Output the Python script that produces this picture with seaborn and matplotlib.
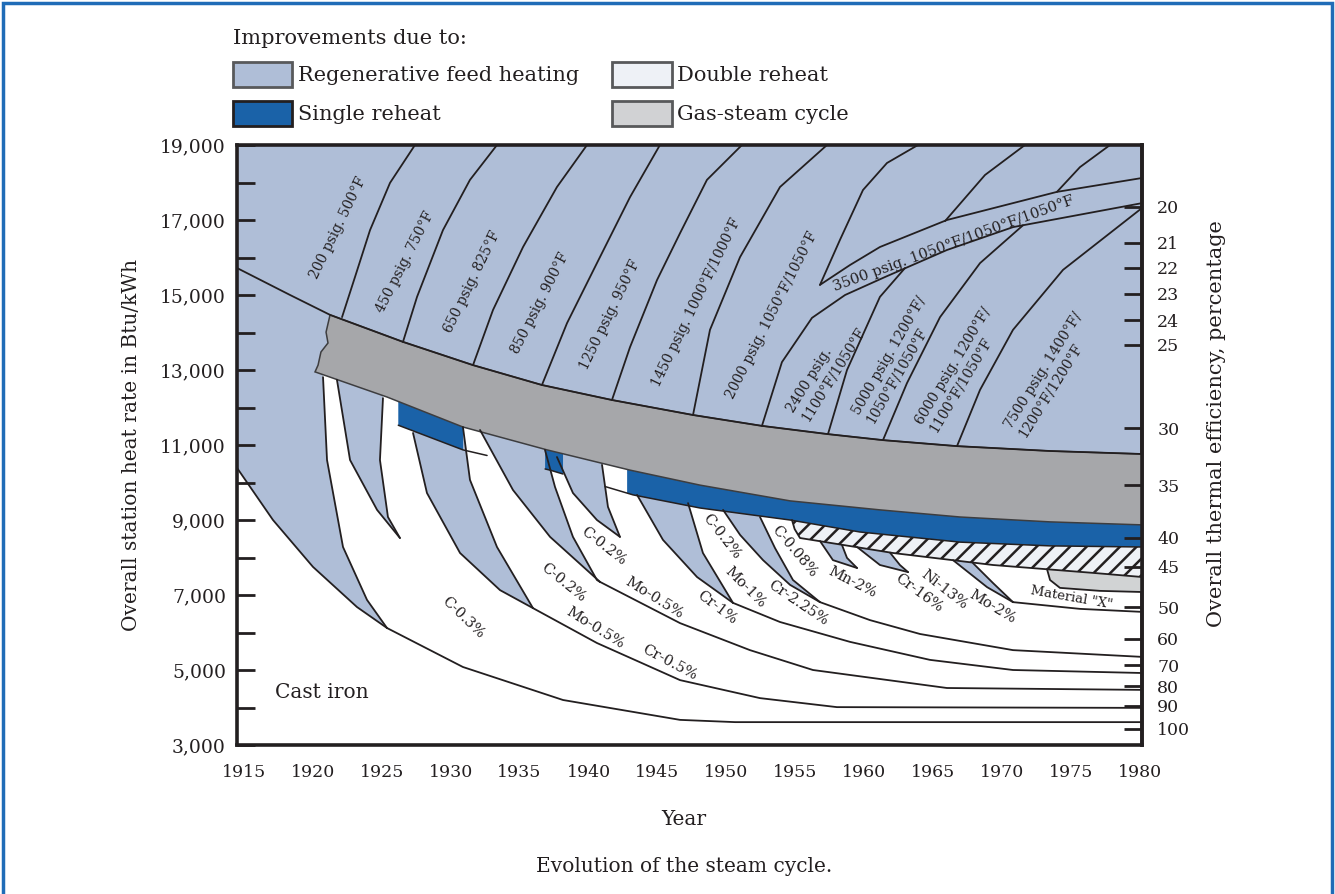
import matplotlib
matplotlib.use("Agg")
import matplotlib.pyplot as plt
from matplotlib.patches import Patch, Rectangle
import numpy as np
import seaborn as sns

sns.set_theme(style="white")
plt.rcParams["font.family"] = ["DejaVu Serif"]
plt.rcParams["hatch.linewidth"] = 1.8

INK = "#231f20"
REGEN = "#afbed7"
REHEAT = "#1a62a8"
DOUBLE = "#eef1f6"
GAS = "#a6a7aa"
GAS_KEY = "#d1d2d4"
MATX = "#d1d3d4"
FRAME = "#1f6cb7"

XMIN, XMAX = 1914.5, 1980.15

# ---- band boundaries (year, Btu/kWh) ----
top_line = [(1914.5, 15720), (1918.35, 15000), (1921.25, 14470), (1926.54, 13750),
            (1931.62, 13130), (1936.62, 12600), (1941.70, 12200), (1947.58, 11800),
            (1952.58, 11510), (1957.37, 11290), (1961.36, 11130), (1966.73, 10970),
            (1973.48, 10840), (1980.15, 10760)]
gas_left = [(1921.25, 14470), (1920.96, 14010), (1921.1, 13720), (1920.59, 13480),
            (1920.38, 13130), (1920.16, 12950)]
gas_bottom = [(1920.16, 12950), (1925.38, 12280), (1930.89, 11480), (1936.99, 10870),
              (1943.01, 10330), (1948.09, 9930), (1954.62, 9510), (1961.14, 9270),
              (1966.95, 9080), (1973.48, 8950), (1980.15, 8870)]
reheat_bottom = [(1926.18, 11530), (1930.89, 10870), (1937.21, 10330), (1943.23, 9670),
                 (1948.09, 9320), (1954.62, 9000), (1959.69, 8680), (1966.95, 8410),
                 (1973.48, 8310), (1980.15, 8280)]
reheat_pieces = [(1926.2, 1930.9), (1936.85, 1938.15), (1942.8, 1980.15)]
reheat_edges = [(1926.2, 1932.64), (1936.85, 1938.15), (1941.2, 1980.15)]
double_bottom = [(1954.76, 9000), (1954.95, 8760), (1955.34, 8520), (1962.09, 8120),
                 (1969.34, 7800), (1976.59, 7590), (1980.15, 7480)]
matx_bottom = [(1973.26, 7690), (1973.48, 7400), (1974.2, 7190), (1977.1, 7110),
               (1980.15, 7080)]

# ---- metal limit curves ----
cast_iron = [(1914.5, 10390), (1917.11, 9000), (1920.01, 7750), (1923.2, 6680), (1925.38, 6120)]
tail_a = [(1925.38, 6120), (1930.89, 5080), (1938.15, 4200), (1946.64, 3670),
          (1950.63, 3610), (1980.15, 3610)]
edge_1 = [(1920.74, 12810), (1921.03, 10600), (1922.19, 8280), (1923.93, 6870), (1925.38, 6120)]
spike_1_left = [(1921.75, 12740), (1922.7, 10600), (1924.66, 9270), (1926.32, 8520)]
spike_1_right = [(1925.09, 12250), (1924.87, 10600), (1925.45, 9080), (1926.32, 8520)]
edge_4 = [(1927.27, 11320), (1928.28, 9720), (1930.68, 8120), (1933.58, 7130), (1935.97, 6650)]
tail_b = [(1935.97, 6650), (1940.61, 5720), (1946.64, 4730), (1952.44, 4250),
          (1958.02, 4010), (1980.15, 3990)]
edge_5 = [(1930.89, 11480), (1931.4, 10070), (1933.36, 8280), (1935.97, 6650)]
edge_6 = [(1932.13, 11400), (1934.52, 9800), (1937.21, 8550), (1940.83, 7350)]
tail_c = [(1940.83, 7350), (1946.64, 6250), (1951.71, 5530), (1956.28, 5000),
          (1966.0, 4520), (1980.15, 4470)]
edge_7 = [(1936.84, 10870), (1937.57, 9880), (1938.87, 8550), (1940.61, 7400), (1940.83, 7350)]
spike_2_left = [(1937.71, 10680), (1938.87, 9720), (1940.61, 9000), (1942.28, 8550)]
spike_2_right = [(1940.98, 10470), (1941.41, 9350), (1942.28, 8550)]
edge_10 = [(1943.52, 9670), (1945.4, 8470), (1947.87, 7480), (1950.48, 6790)]
edge_11 = [(1947.22, 9450), (1948.3, 8120), (1950.48, 6790)]
tail_d = [(1950.48, 6790), (1953.89, 6280), (1958.97, 5750), (1964.77, 5270),
          (1970.79, 5000), (1980.15, 4920)]
edge_12 = [(1949.76, 9270), (1951.0, 8600), (1952.66, 7930), (1954.62, 7270), (1956.79, 6810)]
edge_13 = [(1952.44, 9080), (1953.53, 8250), (1954.83, 7400), (1956.79, 6810)]
tail_e = [(1956.79, 6810), (1960.42, 6330), (1964.05, 5960), (1970.79, 5530), (1980.15, 5350)]
mn_left = [(1956.79, 8440), (1957.73, 7930), (1959.48, 7720)]
mn_right = [(1958.39, 8330), (1958.75, 7990), (1959.48, 7720)]
cr_left = [(1959.48, 8280), (1961.14, 7800), (1963.18, 7610)]
cr_right = [(1961.87, 8130), (1962.59, 7800), (1963.18, 7610)]
edge_14 = [(1966.44, 7930), (1968.91, 7210), (1970.79, 6810)]
edge_15 = [(1967.89, 7850), (1969.34, 7320), (1970.79, 6810)]
tail_f = [(1970.79, 6810), (1975.65, 6630), (1980.15, 6550)]

# ---- steam condition lines ----
steam_1 = [(1922.12, 14410), (1923.06, 15480), (1924.15, 16730), (1925.6, 17990), (1927.41, 19000)]
steam_2 = [(1926.54, 13750), (1927.56, 14950), (1929.44, 16730), (1931.4, 18070), (1933.36, 19000)]
steam_3 = [(1931.62, 13130), (1933.07, 14600), (1935.25, 16280), (1937.71, 17880), (1939.89, 19000)]
steam_4 = [(1936.62, 12600), (1938.44, 14250), (1940.61, 15850), (1943.01, 17610), (1945.18, 19000)]
steam_5 = [(1941.70, 12200), (1943.01, 13610), (1944.97, 15400), (1946.64, 16650),
           (1948.59, 18070), (1951.13, 19000)]
steam_6 = [(1947.58, 11800), (1948.81, 14070), (1950.99, 16010), (1953.89, 17880), (1957.3, 19000)]
steam_7 = [(1952.58, 11510), (1954.03, 13210), (1956.21, 14390), (1958.61, 15000),
           (1961.51, 15480), (1966.0, 16200), (1970.79, 16810), (1980.15, 17450)]
steam_7_top = [(1956.79, 15270), (1958.24, 16470), (1959.91, 17800), (1961.65, 18520), (1963.9, 19000)]
band_3500_top = [(1956.79, 15270), (1958.97, 15800), (1961.14, 16280), (1966.0, 17000),
                 (1973.98, 17750), (1980.15, 18120)]
steam_8_low = [(1957.37, 11290), (1958.75, 13000), (1961.14, 14950), (1962.96, 15720)]
steam_8_up = [(1965.86, 16970), (1968.76, 18200), (1971.66, 19000)]
steam_9_low = [(1961.36, 11130), (1963.1, 12650), (1965.5, 14410), (1968.4, 15850), (1971.52, 16860)]
steam_9_up = [(1973.98, 17750), (1975.65, 18410), (1977.83, 19000)]
steam_10 = [(1966.73, 10970), (1968.4, 12470), (1970.79, 14070), (1974.42, 15670), (1980.15, 17320)]

# ---- labels ----
steam_text = ["200 psig. 500°F", "450 psig. 750°F", "650 psig. 825°F", "850 psig. 900°F",
              "1250 psig. 950°F", "1450 psig. 1000°F/1000°F", "2000 psig. 1050°F/1050°F",
              "2400 psig.\n1100°F/1050°F", "5000 psig. 1200°F/\n1050°F/1050°F",
              "6000 psig. 1200°F/\n1100°F/1050°F", "7500 psig. 1400°F/\n1200°F/1200°F"]
steam_text_year = [1921.83, 1926.69, 1931.55, 1936.48, 1941.56, 1947.8, 1953.31,
                   1957.23, 1962.3, 1966.95, 1973.48]
steam_text_rate = [16790, 15880, 15350, 14790, 14470, 14810, 14470, 13000, 13270, 13000, 12870]
steam_text_angle = [64, 63, 64, 63, 64, 64, 63, 58, 60, 59, 58]

metal_text = ["C-0.3%", "C-0.2%", "Mo-0.5%", "Cr-0.5%", "C-0.2%", "Mo-0.5%", "Cr-1%",
              "C-0.2%", "Mo-1%", "Cr-2.25%", "C-0.08%", "Mn-2%", "Cr-16%", "Ni-13%", "Mo-2%"]
metal_text_year = [1930.89, 1938.15, 1940.47, 1945.91, 1941.12, 1944.75, 1949.32, 1949.68,
                   1951.35, 1955.2, 1954.91, 1959.11, 1963.97, 1965.79, 1969.27]
metal_text_rate = [6410, 7320, 6120, 5210, 8310, 6920, 6650, 8550, 7210, 6790, 8150,
                   7350, 7050, 7130, 6680]
metal_text_angle = [-44, -39, -32, -28, -38, -32, -37, -52, -45, -34, -50, -27, -36, -38, -31]

year_ticks = list(range(1915, 1981, 5))
heat_ticks = list(range(3000, 19001, 2000))
heat_minor = list(range(4000, 18001, 2000))
eff_label = [20, 21, 22, 23, 24, 25, 30, 35, 40, 45, 50, 60, 70, 80, 90, 100]
eff_rate = [17350, 16390, 15720, 15030, 14330, 13670, 11450, 9930, 8520, 7750,
            6680, 5830, 5130, 4570, 4040, 3430]


def arr(pts):
    return np.asarray(pts, dtype=float)


def part(pts, x0, x1):
    a = arr(pts)
    inside = a[(a[:, 0] > x0) & (a[:, 0] < x1)]
    y0 = np.interp(x0, a[:, 0], a[:, 1])
    y1 = np.interp(x1, a[:, 0], a[:, 1])
    return np.vstack([[x0, y0], inside, [x1, y1]])


def poly(*pieces):
    return np.vstack([arr(p) for p in pieces])


fig = plt.figure(figsize=(13.35, 8.94), dpi=100)
ax = fig.add_axes([237 / 1335, 149 / 894, 905 / 1335, 600 / 894])
ax.set_xlim(XMIN, XMAX)
ax.set_ylim(3000, 19000)
ax.set_facecolor(REGEN)
ax.set_axisbelow(False)


def fill(pts, color, z, **kw):
    a = arr(pts)
    ax.fill(a[:, 0], a[:, 1], facecolor=color, lw=0, zorder=z, **kw)


def line(pts, **kw):
    a = arr(pts)
    sns.lineplot(x=a[:, 0], y=a[:, 1], sort=False, estimator=None, color=INK,
                 lw=kw.pop("lw", 1.3), ax=ax, zorder=5, **kw)


# white zones of the different steels
zones = [
    poly(cast_iron, tail_a, [(XMAX, 3000), (XMIN, 3000)]),
    poly(edge_1, tail_a, tail_b[::-1], edge_4[::-1],
         part(gas_bottom, edge_1[0][0], edge_4[0][0])[::-1]),
    poly(edge_5, tail_b, tail_c[::-1], edge_6[::-1],
         part(gas_bottom, edge_5[0][0], edge_6[0][0])[::-1]),
    poly(edge_7, tail_c, tail_d[::-1], edge_10[::-1],
         part(gas_bottom, edge_7[0][0], edge_10[0][0])[::-1]),
    poly(edge_11, tail_d, tail_e[::-1], edge_12[::-1],
         part(gas_bottom, edge_11[0][0], edge_12[0][0])[::-1]),
    poly(edge_13, tail_e, tail_f[::-1], edge_14[::-1],
         part(reheat_bottom, edge_13[0][0], edge_14[0][0])[::-1]),
    poly(edge_15, tail_f, matx_bottom[::-1],
         part(double_bottom, edge_15[0][0], matx_bottom[0][0])[::-1]),
]
for z in zones:
    fill(z, "white", 1, edgecolor="none")

# feed heating tongues inside the steel zones
spikes = [
    poly(spike_1_left, spike_1_right[::-1],
         part(gas_bottom, spike_1_left[0][0], spike_1_right[0][0])[::-1]),
    poly(spike_2_left, spike_2_right[::-1],
         part(gas_bottom, spike_2_left[0][0], spike_2_right[0][0])[::-1]),
    poly(mn_left, mn_right[::-1]),
    poly(cr_left, cr_right[::-1]),
]
for s in spikes:
    fill(s, REGEN, 2, edgecolor="none")

# single reheat
for x0, x1 in reheat_pieces:
    fill(poly(part(gas_bottom, x0, x1), part(reheat_bottom, x0, x1)[::-1]), REHEAT, 3,
         edgecolor="none")
# double reheat (hatched) and material X
fill(poly(part(reheat_bottom, double_bottom[0][0], XMAX), double_bottom[::-1]), DOUBLE, 3,
     edgecolor=INK, hatch="//")
fill(poly(part(double_bottom, matx_bottom[0][0], XMAX), matx_bottom[::-1]), MATX, 3,
     edgecolor="none")
# gas-steam band
a = poly(gas_left, gas_bottom[1:], part(top_line, gas_left[0][0], XMAX)[::-1])
ax.fill(a[:, 0], a[:, 1], facecolor=GAS, edgecolor="#3d3d3f", lw=1.1, zorder=4)

for c in [top_line, cast_iron, tail_a, edge_1, spike_1_left, spike_1_right, edge_4, tail_b,
          edge_5, edge_6, tail_c, edge_7, spike_2_left, spike_2_right, edge_10, tail_d,
          edge_11, edge_12, tail_e, edge_13, mn_left, mn_right, cr_left, cr_right,
          edge_14, tail_f, edge_15, steam_1, steam_2, steam_3, steam_4, steam_5, steam_6,
          steam_7, steam_7_top, band_3500_top, steam_8_low, steam_8_up, steam_9_low,
          steam_9_up, steam_10, double_bottom, matx_bottom]:
    line(c)
for x0, x1 in reheat_edges:
    line(part(reheat_bottom, x0, x1), lw=1.1)

for t, x, y, r in zip(steam_text, steam_text_year, steam_text_rate, steam_text_angle):
    ax.text(x, y, t, rotation=r, rotation_mode="anchor", ha="center", va="center",
            multialignment="left", fontsize=10, color=INK, zorder=6, linespacing=1.2)
ax.text(1966.5, 16380, "3500 psig. 1050°F/1050°F/1050°F", rotation=20, rotation_mode="anchor",
        ha="center", va="center", fontsize=10.5, color=INK, zorder=6)
for t, x, y, r in zip(metal_text, metal_text_year, metal_text_rate, metal_text_angle):
    ax.text(x, y, t, rotation=r, rotation_mode="anchor", ha="center", va="center",
            fontsize=10.5, color=INK, zorder=6)
ax.text(1975.07, 6920, 'Material "X"', rotation=-10, rotation_mode="anchor", ha="center",
        va="center", fontsize=9.5, color=INK, zorder=6)
ax.text(1920.67, 4410, "Cast iron", ha="center", va="center", fontsize=14.5, color=INK, zorder=6)

# axes, ticks
ax.set_xticks(year_ticks)
ax.set_xticklabels([str(y) for y in year_ticks])
ax.set_xticks(year_ticks[1:-1], minor=True)
ax.set_yticks(heat_ticks)
ax.set_yticklabels([f"{v:,}" for v in heat_ticks])
ax.set_yticks(heat_minor, minor=True)
ax.tick_params(axis="x", which="major", bottom=True, length=0, pad=14, labelsize=12.5,
               labelcolor=INK)
ax.tick_params(axis="x", which="minor", bottom=True, direction="in", length=13, width=2,
               color=INK)
ax.tick_params(axis="y", which="both", left=True, direction="in", length=13, width=2,
               color=INK, pad=8, labelsize=13.5, labelcolor=INK)
for sp in ax.spines.values():
    sp.set_linewidth(2.6)
    sp.set_color(INK)
ax.set_xlabel("Year", fontsize=14.5, color=INK)
ax.xaxis.set_label_coords(0.494, -0.108)
ax.set_ylabel("Overall station heat rate in Btu/kWh", fontsize=14.5, color=INK)
ax.yaxis.label.set_va("center")
ax.yaxis.set_label_coords(-0.117, 0.5)

ax2 = ax.twinx()
ax2.set_ylim(3000, 19000)
ax2.set_yticks(eff_rate)
ax2.set_yticklabels([str(e) for e in eff_label])
ax2.tick_params(axis="y", right=True, direction="in", length=13, width=2, color=INK,
                pad=11, labelsize=12.5, labelcolor=INK)
for k, sp in ax2.spines.items():
    sp.set_visible(k == "right")
    sp.set_linewidth(2.6)
    sp.set_color(INK)
ax2.set_ylabel("Overall thermal efficiency, percentage", fontsize=15, color=INK)
ax2.yaxis.label.set_va("center")
ax2.yaxis.set_label_coords(1.082, 0.535)

handles = [Patch(facecolor=REGEN, edgecolor="#58595b", lw=2, label="Regenerative feed heating"),
           Patch(facecolor=REHEAT, edgecolor=INK, lw=2, label="Single reheat"),
           Patch(facecolor=DOUBLE, edgecolor="#58595b", lw=2, label="Double reheat"),
           Patch(facecolor=GAS_KEY, edgecolor="#58595b", lw=2, label="Gas-steam cycle")]
leg = ax.legend(handles=handles, loc="upper left", bbox_to_anchor=(233 / 1335, 1 - 29 / 894),
                bbox_transform=fig.transFigure, ncol=2, frameon=False, fontsize=15,
                title="Improvements due to:", title_fontsize=15, alignment="left",
                handlelength=2.84, handleheight=1.5, handletextpad=0.28, columnspacing=1.6,
                labelspacing=0.66, borderpad=0, borderaxespad=0)
for t in leg.get_texts():
    t.set_color(INK)
leg.get_title().set_color(INK)

fig.text(684 / 1335, 1 - 866 / 894, "Evolution of the steam cycle.", ha="center", va="center",
         fontsize=14.5, color=INK)
fig.add_artist(Rectangle((3 / 1335, -0.02), 1329 / 1335, 0.99664 + 0.02,
                         transform=fig.transFigure, fill=False, edgecolor=FRAME, lw=2.5))

fig.savefig("out.png", dpi=100)
